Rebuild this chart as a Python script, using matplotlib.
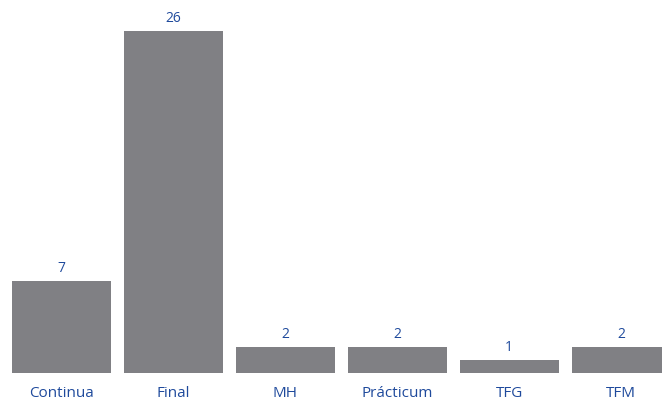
import matplotlib
matplotlib.use("Agg")
import matplotlib.pyplot as plt

categories = ["Continua", "Final", "MH", "Prácticum", "TFG", "TFM"]
values = [7, 26, 2, 2, 1, 2]

bar_color = "#808084"
text_color = "#1f4a9c"

fig = plt.figure(figsize=(6.62, 4.01), dpi=100)
ax = fig.add_axes([12/662, 28/401, 650/662, 368.3/401])
x = list(range(len(categories)))
bars = ax.bar(x, values, width=0.88, color=bar_color)
ax.set_xlim(-0.44, -0.44 + 650/112)
ax.set_ylim(0, 28)
for xi, v in zip(x, values):
    ax.annotate(str(v), (xi, v), xytext=(0, 3.5), textcoords="offset points",
                ha="center", va="bottom", color=text_color, fontsize=10,
                family="Open Sans", fontweight="medium", annotation_clip=False)
for xi, c in zip(x, categories):
    ax.annotate(c, (xi, 0), xytext=(0, -14.5), textcoords="offset points",
                ha="center", va="center", color=text_color, fontsize=11,
                family="Open Sans", fontweight="medium", annotation_clip=False)
ax.axis("off")
fig.savefig("out.png", dpi=100)
